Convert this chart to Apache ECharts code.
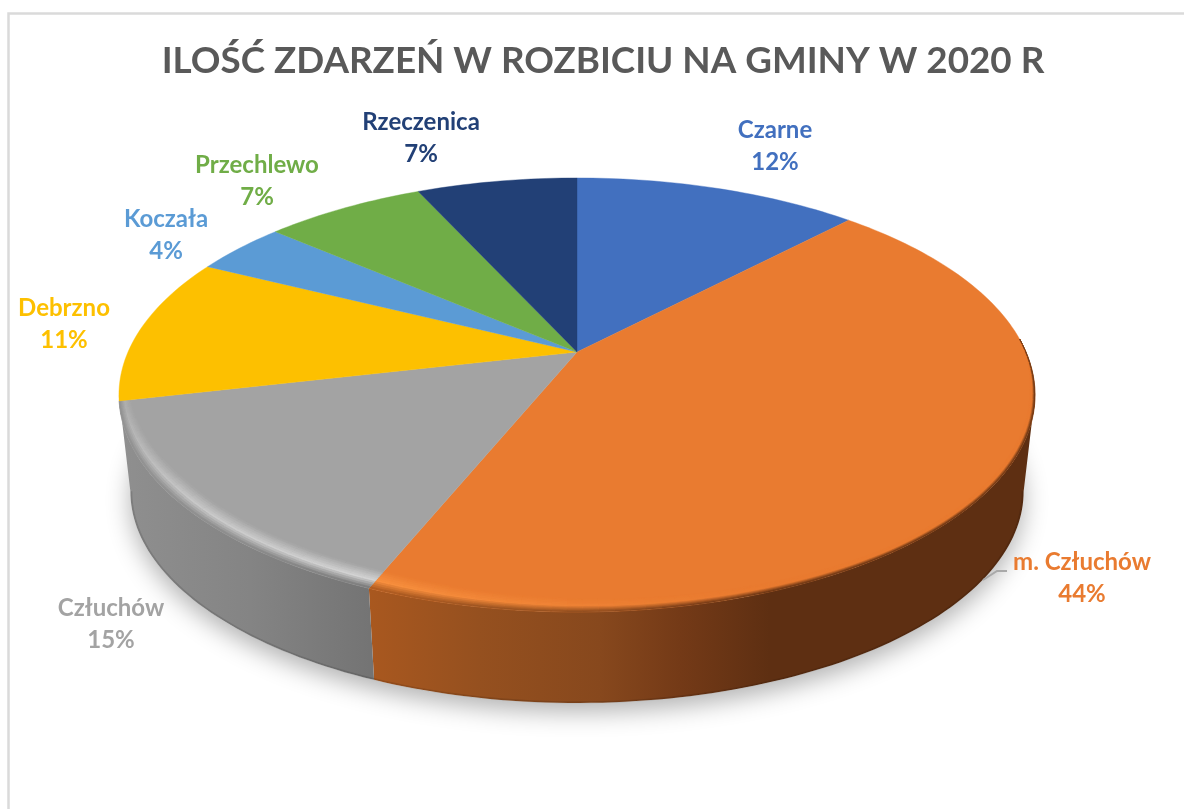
<!DOCTYPE html>
<html>
<head>
<meta charset="utf-8">
<style>
  html, body { margin: 0; padding: 0; background: #fff; }
  #chart { width: 1184px; height: 809px; }
</style>
<script src="https://cdn.jsdelivr.net/npm/echarts@6/dist/echarts.min.js"></script>
</head>
<body>
<div id="chart"></div>
<script>
// percent of events per commune, clockwise from 12 o'clock (slice sizes)
const categories = ['Czarne', 'm. Człuchów', 'Człuchów', 'Debrzno', 'Koczała', 'Przechlewo', 'Rzeczenica'];
const values = [12.15, 44.03, 15.22, 10.95, 3.95, 6.85, 6.85];
const colors = ['#4270BF', '#E97B30', '#A3A3A3', '#FDC000', '#5B9BD5', '#70AD47', '#224076'];

// label centres
const labelPos = [[775, 146], [1082, 578], [111, 624], [64, 324], [166, 235], [257, 181], [421, 138]];

// wall shading, left to right
const wallStops = {
  1: [[368, '#A9581F'], [480, '#95501F'], [600, '#87481D'], [680, '#743A17'], [770, '#5E2F12'], [1035, '#5E2F12']],
  2: [[122, '#8F8F8F'], [250, '#848484'], [370, '#747474']]
};
const brightRim = { 1: '#F8903F', 2: '#D4D4D4' };

// perspective disc: apex of the slices sits above the middle of the ellipse
const cx = 577, cy = 352, a = 449, b = 208.5, k = 0.198;
const wallH = 97.5, wallScale = 0.975;
// where the outline of the disc turns, the wall is only seen between these two
const tangentR = Math.acos(-k) / (2 * Math.PI), tangentL = 1 - tangentR;

function proj(frac, r, low) {
  const th = 2 * Math.PI * frac;
  const u = r * Math.sin(th), v = r * Math.cos(th);
  const d = 1 + k * v;
  const s = low ? wallScale : 1;
  return [cx + s * a * u / d, cy + (low ? wallH : 0) - s * b * v / d];
}

function arc(from, to, r, low) {
  const n = Math.max(2, Math.ceil((to - from) * 300));
  const pts = [];
  for (let i = 0; i <= n; i++) pts.push(proj(from + (to - from) * i / n, r, low));
  return pts;
}

function hex(c) {
  return [parseInt(c.slice(1, 3), 16), parseInt(c.slice(3, 5), 16), parseInt(c.slice(5, 7), 16)];
}
function mix(c1, c2, t) {
  const p = hex(c1), q = hex(c2);
  const o = p.map((x, i) => Math.round(x + (q[i] - x) * t));
  return '#' + o.map(x => x.toString(16).padStart(2, '0')).join('');
}
function colorAt(stops, x) {
  if (x <= stops[0][0]) return stops[0][1];
  for (let i = 1; i < stops.length; i++) {
    if (x <= stops[i][0]) {
      return mix(stops[i - 1][1], stops[i][1], (x - stops[i - 1][0]) / (stops[i][0] - stops[i - 1][0]));
    }
  }
  return stops[stops.length - 1][1];
}
function lerpTable(tab, f) {
  if (f <= tab[0][0]) return tab[0][1];
  for (let i = 1; i < tab.length; i++) {
    if (f <= tab[i][0]) {
      return tab[i - 1][1] + (tab[i][1] - tab[i - 1][1]) * (f - tab[i - 1][0]) / (tab[i][0] - tab[i - 1][0]);
    }
  }
  return tab[tab.length - 1][1];
}

const rimWidth = [[0.24, 0], [0.28, 0.012], [0.40, 0.018], [0.50, 0.042], [0.56, 0.06], [0.65, 0.05], [0.72, 0.022], [0.76, 0]];
const rimGlow = [[0.44, 0], [0.50, 0.35], [0.56, 1], [0.64, 0.75], [0.72, 0.2]];

const total = values.reduce((s, v) => s + v, 0);
const sliceData = [];
let run = 0;
values.forEach(function (v) {
  sliceData.push([run / total, (run + v) / total, v]);
  run += v;
});

function renderSlice(params, api) {
  const i = params.dataIndex;
  const start = api.value(0), end = api.value(1), val = api.value(2);
  const kids = [];
  const stops = wallStops[i];

  if (stops) {
    const from = Math.max(start, tangentR), to = end > 0.7 ? tangentL : end;
    const top = arc(from, to, 1, false);
    const bottom = arc(from, to, 1, true);
    kids.push({
      type: 'polygon',
      shape: { points: top.concat(bottom.slice().reverse()) },
      style: {
        fill: {
          type: 'linear', global: true, x: stops[0][0], y: 0, x2: stops[stops.length - 1][0], y2: 0,
          colorStops: stops.map(s => ({
            offset: (s[0] - stops[0][0]) / (stops[stops.length - 1][0] - stops[0][0]),
            color: s[1]
          }))
        }
      }
    });
    // darker lip at the foot of the wall
    kids.push({
      type: 'polyline',
      shape: { points: arc(from, to, 0.998, true) },
      style: { fill: null, stroke: 'rgba(0,0,0,0.12)', lineWidth: 2 }
    });
  }

  kids.push({
    type: 'polygon',
    shape: { points: [[cx, cy]].concat(arc(start, end, 1, false)) },
    style: { fill: colors[i], stroke: colors[i], lineWidth: 0.4 }
  });

  if (stops) {
    // soft rim between face and wall, built from thin quads
    const from = Math.max(start, 0.24), to = Math.min(end, 0.76);
    const n = Math.ceil((to - from) * 220), bands = 10;
    for (let s = 0; s < n; s++) {
      const f0 = from + (to - from) * s / n, f1 = from + (to - from) * (s + 1) / n;
      const fm = (f0 + f1) / 2;
      const w0 = lerpTable(rimWidth, f0), w1 = lerpTable(rimWidth, f1);
      if (w0 + w1 <= 0) continue;
      const xm = proj(fm, 1, false)[0];
      const wallCol = colorAt(stops, xm);
      const high = mix(colors[i], brightRim[i], lerpTable(rimGlow, fm));
      for (let j = 0; j < bands; j++) {
        const t0 = j / bands, t1 = (j + 1) / bands, tm = (t0 + t1) / 2;
        const col = tm < 0.55 ? mix(colors[i], high, tm / 0.55) : mix(high, wallCol, (tm - 0.55) / 0.45);
        kids.push({
          type: 'polygon',
          shape: {
            points: [
              proj(f0, 1 - w0 * (1 - t0), false), proj(f1, 1 - w1 * (1 - t0), false),
              proj(f1, 1 - w1 * (1 - t1), false), proj(f0, 1 - w0 * (1 - t1), false)
            ]
          },
          style: { fill: col, stroke: col, lineWidth: 0.5 }
        });
      }
    }
  }

  kids.push({
    type: 'text',
    style: {
      text: categories[i] + '\n' + Math.round(val / total * 100) + '%',
      x: labelPos[i][0], y: labelPos[i][1],
      align: 'center', verticalAlign: 'middle',
      fill: colors[i],
      font: 'bold 24px Lato',
      lineHeight: 32
    }
  });
  return { type: 'group', children: kids };
}

const chart = echarts.init(document.getElementById('chart'), null, { renderer: 'canvas' });
chart.setOption({
  animation: false,
  backgroundColor: '#fff',
  title: {
    text: 'ILOŚĆ ZDARZEŃ W ROZBICIU NA GMINY W 2020 R',
    left: 598, top: 38, textAlign: 'center',
    textStyle: { color: '#595959', fontFamily: 'Lato', fontWeight: 'bold', fontSize: 36.8 }
  },
  graphic: [
    { type: 'polyline', silent: true, z: -1,
      shape: { points: [[8.5, 820], [8.5, 13.5], [1190, 13.5]] },
      style: { fill: null, stroke: '#DADADA', lineWidth: 2.5 } },
    // leader line of the big slice
    { type: 'polyline', silent: true, z: 10,
      shape: { points: [[983, 580], [997, 571], [1007, 571]] },
      style: { fill: null, stroke: '#A9A9A9', lineWidth: 2 } }
  ],
  series: [
    {
      // ground shadow under the disc
      type: 'custom', coordinateSystem: 'none', silent: true, z: 1,
      data: [[0, 1]],
      renderItem: function (params, api) {
        return {
          type: 'polygon',
          shape: { points: arc(api.value(0), api.value(1), 1, true) },
          style: { fill: '#fff', shadowBlur: 24, shadowColor: 'rgba(0,0,0,0.3)', shadowOffsetY: 9 }
        };
      }
    },
    {
      type: 'custom', coordinateSystem: 'none', silent: true, z: 2,
      data: sliceData,
      renderItem: renderSlice
    }
  ]
});
</script>
</body>
</html>
